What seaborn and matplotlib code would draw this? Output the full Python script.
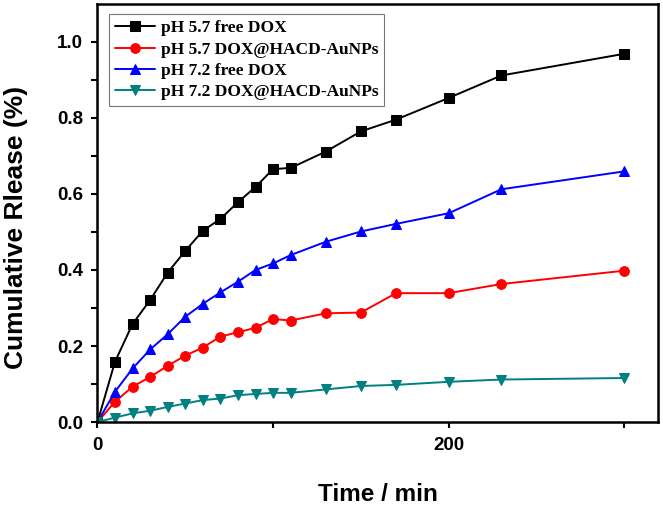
import numpy as np
import pandas as pd
import matplotlib
matplotlib.use('Agg')
import matplotlib.pyplot as plt
import seaborn as sns

time_min = [0, 10, 20, 30, 40, 50, 60, 70, 80, 90, 100, 110, 130, 150, 170, 200, 230, 300]

ph57_free = [0.0, 0.159, 0.258, 0.321, 0.393, 0.450, 0.503, 0.534, 0.578, 0.618,
             0.665, 0.668, 0.711, 0.764, 0.795, 0.852, 0.911, 0.968]
ph57_np = [0.0, 0.054, 0.093, 0.119, 0.148, 0.175, 0.196, 0.225, 0.236, 0.248,
           0.271, 0.267, 0.286, 0.288, 0.339, 0.339, 0.363, 0.398]
ph72_free = [0.0, 0.080, 0.141, 0.191, 0.231, 0.277, 0.311, 0.341, 0.369, 0.400,
             0.417, 0.439, 0.474, 0.501, 0.521, 0.549, 0.612, 0.659]
ph72_np = [0.0, 0.012, 0.023, 0.030, 0.040, 0.049, 0.058, 0.062, 0.071, 0.074,
           0.077, 0.077, 0.086, 0.095, 0.098, 0.106, 0.112, 0.116]

series_names = ['pH 5.7 free DOX', 'pH 5.7 DOX@HACD-AuNPs',
                'pH 7.2 free DOX', 'pH 7.2 DOX@HACD-AuNPs']
series_colors = ['#000000', '#ff0000', '#0000ff', '#008080']
series_markers = ['s', 'o', '^', 'v']

x_ticks = [0, 100, 200, 300]
x_ticklabels = ['0', '', '200', '']
y_ticks = [0.0, 0.1, 0.2, 0.3, 0.4, 0.5, 0.6, 0.7, 0.8, 0.9, 1.0]
y_ticklabels = ['0.0', '', '0.2', '', '0.4', '', '0.6', '', '0.8', '', '1.0']

sns.set_style('ticks')
plt.rcParams['font.family'] = ['Liberation Sans', 'DejaVu Sans']
plt.rcParams['text.color'] = 'black'
plt.rcParams['axes.labelcolor'] = 'black'
plt.rcParams['xtick.color'] = 'black'
plt.rcParams['ytick.color'] = 'black'
plt.rcParams['axes.edgecolor'] = 'black'

df = pd.DataFrame({'time': time_min * 4,
                   'release': ph57_free + ph57_np + ph72_free + ph72_np,
                   'series': sum([[n] * len(time_min) for n in series_names], [])})

fig = plt.figure(figsize=(6.63, 5.08), dpi=100)
ax = fig.add_axes([0.147, 0.169, 0.845, 0.824])

for name, color, mk in zip(series_names, series_colors, series_markers):
    sub = df[df['series'] == name]
    sns.lineplot(data=sub, x='time', y='release', ax=ax, color=color, marker=mk,
                 markersize=7, markeredgecolor=color, linewidth=1.4, label=name)

ax.set_xlim(0, 319)
ax.set_ylim(0, 1.1)
ax.set_xticks(x_ticks)
ax.set_xticklabels(x_ticklabels)
ax.set_yticks(y_ticks)
ax.set_yticklabels(y_ticklabels)
ax.tick_params(direction='out', length=4.5, width=1.5, labelsize=13.5, pad=6)
for lab in ax.get_xticklabels() + ax.get_yticklabels():
    lab.set_fontweight('bold')
for sp in ax.spines.values():
    sp.set_visible(True)
    sp.set_linewidth(1.8)

ax.set_xlabel('Time / min', fontsize=17.5, fontweight='bold')
ax.set_ylabel('Cumulative Rlease (%)', fontsize=19, fontweight='bold')
ax.xaxis.set_label_coords(0.5, -0.145)
ax.yaxis.set_label_coords(-0.124, 0.464)

leg = ax.legend(loc='upper left', bbox_to_anchor=(0.02, 0.975), frameon=True,
                fancybox=False, edgecolor='#555555', handlelength=2.3,
                borderpad=0.35, labelspacing=0.3, handletextpad=0.35,
                borderaxespad=0.0,
                prop={'family': 'Liberation Serif', 'weight': 'bold', 'size': 12.5})
leg.get_frame().set_linewidth(0.8)

fig.savefig('out.png', dpi=100)
